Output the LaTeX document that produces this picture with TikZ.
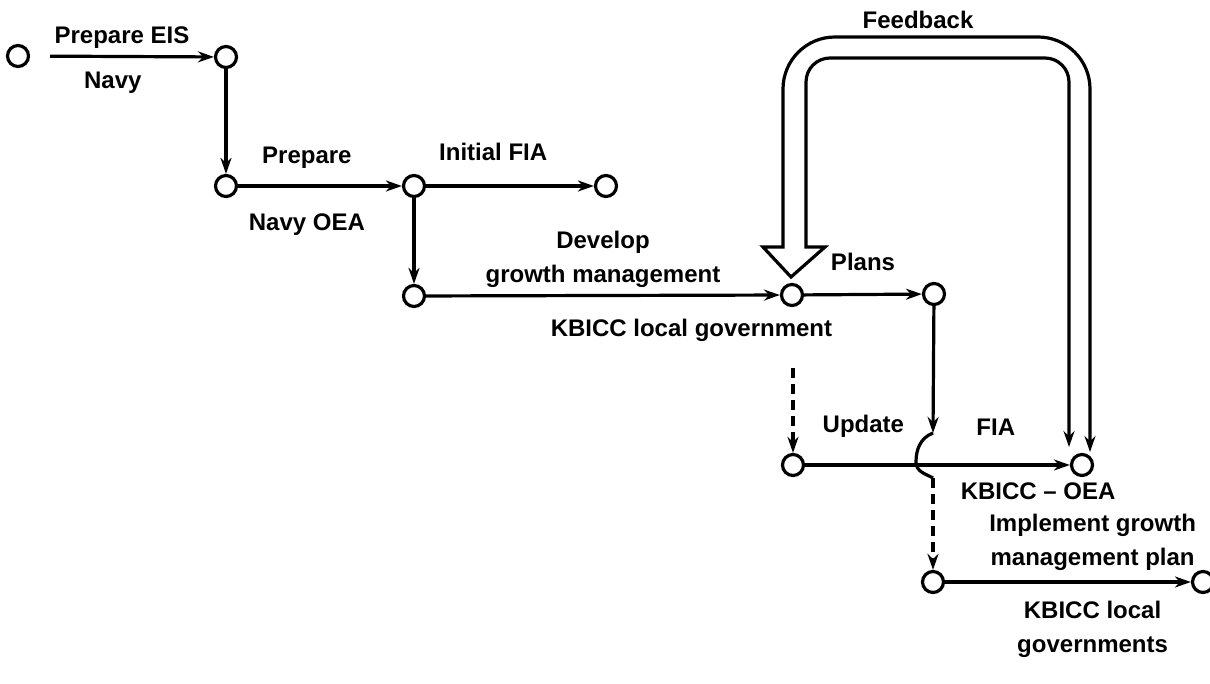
\documentclass[tikz,border=0pt]{standalone}
\usepackage{fontspec}
\setmainfont{Liberation Sans}
\usetikzlibrary{arrows.meta,calc}

\begin{document}
\begin{tikzpicture}
  [x=0.5pt,y=-0.5pt,>={Stealth[length=8pt,width=5.5pt]},line width=1.6pt,
  event/.style={circle,draw,line width=1.6pt,minimum size=10.5pt,inner sep=0pt},
  lbl/.style={font=\fontsize{12}{17}\selectfont\bfseries,inner sep=3pt}]
  \useasboundingbox (0,0) rectangle (1210,684);
  \node[event] (1) at (18,56) {};
  \node[event] (2) at (226,57) {};
  \node[event] (3) at (226,186) {};
  \node[event] (4) at (414,186) {};
  \node[event] (5) at (606,186) {};
  \node[event] (6) at (414,296) {};
  \node[event] (7) at (792,295) {};
  \node[event] (8) at (934,294) {};
  \node[event] (9) at (793,465) {};
  \node[event] (10) at (1082,465) {};
  \node[event] (11) at (933,582) {};
  \node[event] (12) at (1203,582) {};
  \node[lbl] (fb) at (918,20) {Feedback};
  \coordinate (upd) at (793,368);
  \coordinate (hopA) at (933,433);
  \coordinate (hopB) at (933,478);

  \path[->,every node/.style={lbl}]
  (1) edge[shorten <=10pt] node[above] {Prepare EIS} node[below=4pt,pos=.45] {Navy} (2)
  (2) edge (3)
  (3) edge node[above=5pt,pos=.42] {Prepare} node[below=10pt,pos=.42] {Navy OEA} (4)
  (4) edge node[above=9pt,pos=.4] {Initial FIA} (5)
  (4) edge (6)
  (6) edge node[above,align=center] {Develop\\growth management}
          node[below=8pt,pos=.75] {KBICC local government} (7)
  (7) edge node[above=8pt] {Plans} (8)
  (9) edge node[above=10pt,pos=.22] {Update} node[above=11pt,pos=.72] {FIA}
          node[below=5pt,pos=.88] {KBICC -- OEA} (10)
  (11) edge node[above=2pt,pos=.6,align=center] {Implement growth\\management plan}
          node[below=6pt,pos=.6,align=center] {KBICC local\\governments} (12);

  % feedback loop
  \draw[<->] ($(10)+(-13,-18)$) [rounded corners=12] -- (1069,58) -- (806,58)
    -- (806,200) [sharp corners] -- (806,247) -- (825,247) -- ($(7)+(-1,-18)$)
    -- (763,247) -- (783,247) -- (783,200) [rounded corners=26] -- (783,37)
    -- (1090,37) -- ($(10)+(8,-13)$);

  % crossing over the update line
  \draw[->] (8) -- (hopA);
  \draw (hopA) .. controls (920,438) and (916,450) .. (916,462)
    .. controls (916,472) and (926,474) .. (hopB);
  \draw[->,dash pattern=on 5pt off 3pt] (hopB) -- (11);
  \draw[->,dash pattern=on 5pt off 3pt] (upd) -- (9);
\end{tikzpicture}
\end{document}
